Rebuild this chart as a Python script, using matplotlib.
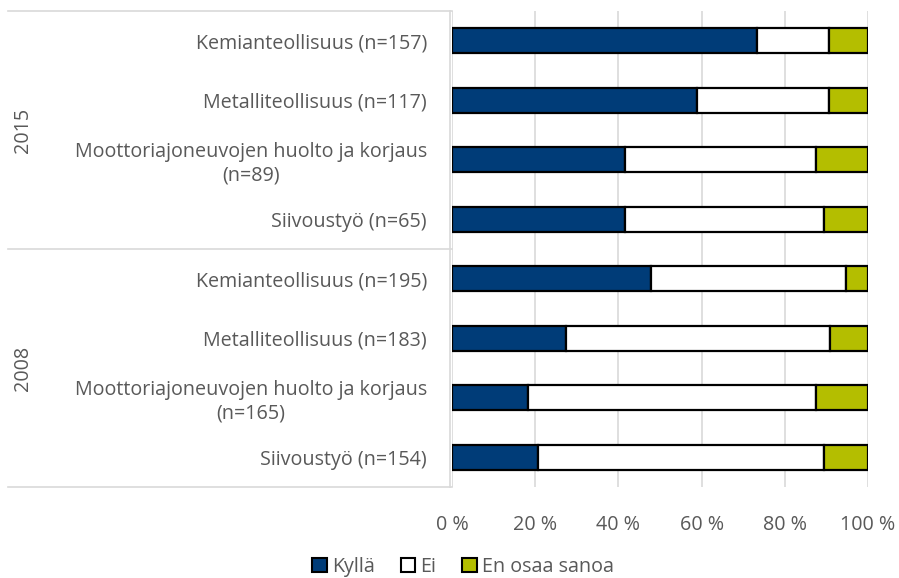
import numpy as np
import matplotlib
matplotlib.use("Agg")
import matplotlib.pyplot as plt
from matplotlib.patches import Patch

# Aineisto
labels = ["Kemianteollisuus (n=157)", "Metalliteollisuus (n=117)",
          "Moottoriajoneuvojen huolto ja korjaus\n(n=89)", "Siivoustyö (n=65)",
          "Kemianteollisuus (n=195)", "Metalliteollisuus (n=183)",
          "Moottoriajoneuvojen huolto ja korjaus\n(n=165)", "Siivoustyö (n=154)"]
years = ["2015", "2008"]
kylla = [73.2, 59.0, 41.5, 41.5, 47.8, 27.5, 18.2, 20.6]
ei = [17.4, 31.6, 46.1, 47.9, 46.9, 63.3, 69.4, 68.9]
eos = [9.4, 9.4, 12.4, 10.6, 5.3, 9.2, 12.4, 10.5]
series_names = ["Kyllä", "Ei", "En osaa sanoa"]
colors = ["#003C78", "#FFFFFF", "#B4BE00"]
xticks = [0, 20, 40, 60, 80, 100]

plt.rcParams["font.family"] = ["Open Sans", "DejaVu Sans"]
txt = "#595959"
grid = "#D9D9D9"
fs = 14.2

W, H = 899, 578
fig = plt.figure(figsize=(W / 100, H / 100), dpi=100)
x0, x1, y0, y1 = 452, 868, 11, 487
ax = fig.add_axes([x0 / W, 1 - y1 / H, (x1 - x0) / W, (y1 - y0) / H])

y = np.arange(len(labels))
left = np.zeros(len(labels))
for vals, c in zip([kylla, ei, eos], colors):
    ax.barh(y, vals, left=left, height=0.42, color=c, edgecolor="black",
            linewidth=1.6, zorder=3)
    left += np.array(vals)

ax.set_xlim(0, 100)
ax.set_ylim(len(labels) - 0.5, -0.5)
ax.set_xticks(xticks)
ax.set_xticklabels([f"{t} %" for t in xticks], color=txt, fontsize=fs)
ax.tick_params(axis="x", length=0, pad=20)
ax.grid(axis="x", color=grid, linewidth=1.2, zorder=0)
for s in ax.spines.values():
    s.set_visible(False)

ax.set_yticks(y)
ax.set_yticklabels(labels, color=txt, fontsize=fs)
ax.tick_params(axis="y", length=0, pad=18)
for t in ax.get_yticklabels():
    t.set_multialignment("center")

# kategoria-akselin viivat
lx = (8 - x0) / (x1 - x0)
for yy in [-0.5, 3.5, 7.5]:
    ax.plot([lx, 0], [yy, yy], color=grid, linewidth=1.2,
            transform=ax.get_yaxis_transform(), clip_on=False)
ax.plot([-0.005, -0.005], [-0.5, 7.5], color=grid, linewidth=1.2,
        transform=ax.get_yaxis_transform(), clip_on=False)

yx = (23 - x0) / (x1 - x0)
for i, yr in enumerate(years):
    ax.text(yx, 1.5 + 4 * i, yr, rotation=90, ha="center", va="center",
            color=txt, fontsize=fs, transform=ax.get_yaxis_transform())

handles = [Patch(facecolor=c, edgecolor="black", linewidth=1.5) for c in colors]
fig.legend(handles, series_names, loc="center", bbox_to_anchor=(463 / W, 1 - 567 / H),
           ncol=3, frameon=False, fontsize=fs, labelcolor=txt,
           handlelength=0.75, handleheight=0.75, handletextpad=0.25, columnspacing=1.3)

fig.savefig("out.png", dpi=100)
